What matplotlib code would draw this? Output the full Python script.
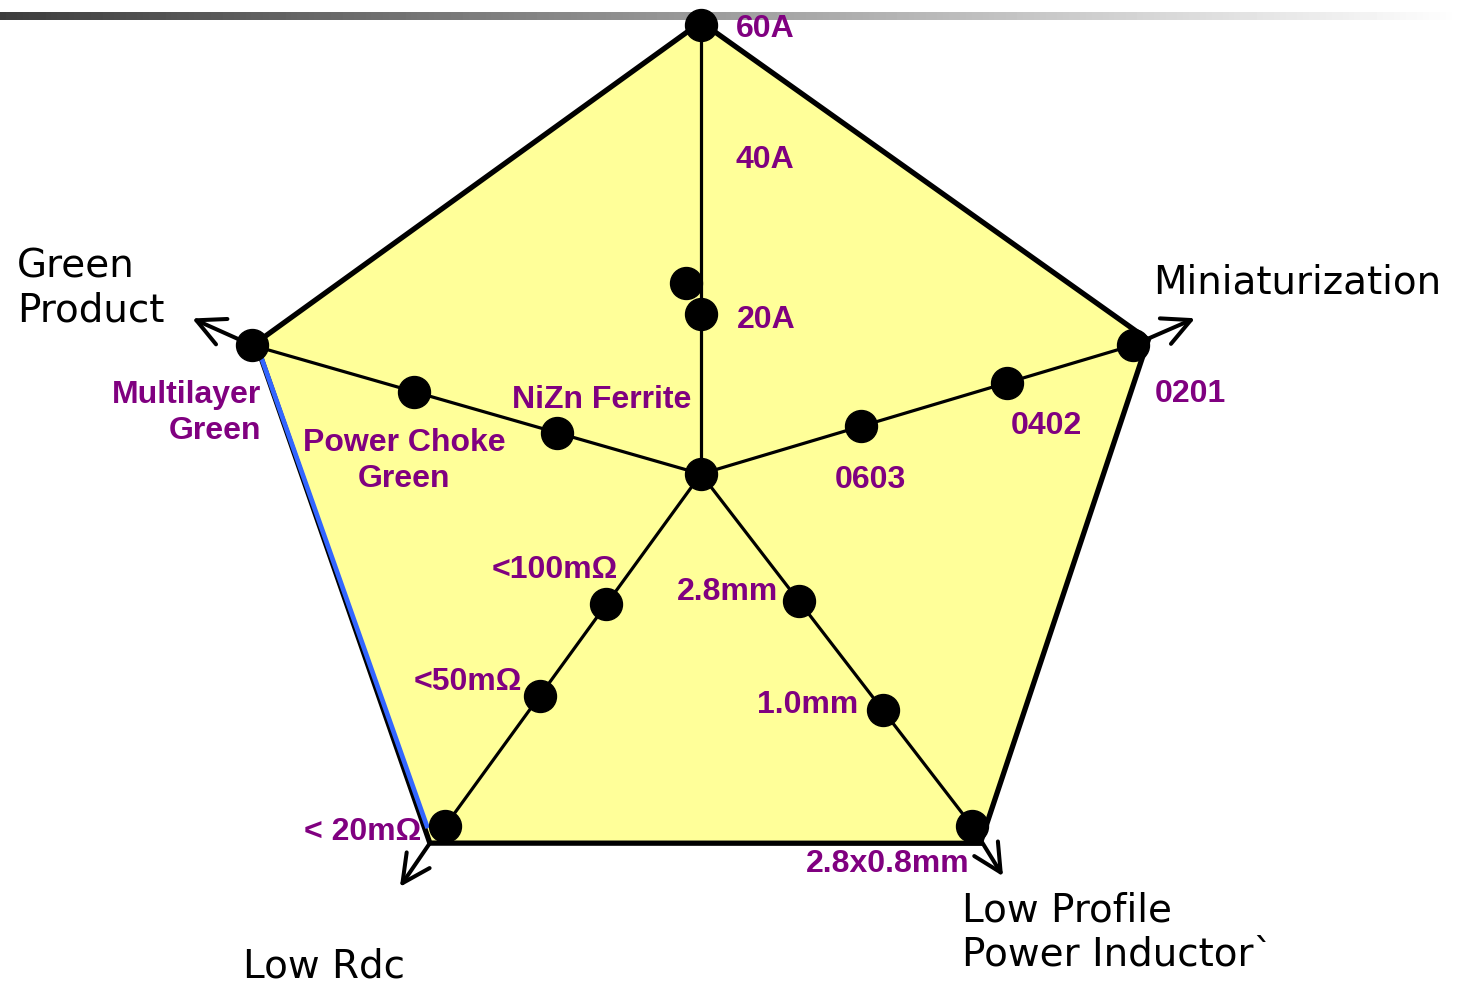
import numpy as np
import matplotlib
matplotlib.use("Agg")
import matplotlib.pyplot as plt

# ---------------- data ----------------
center = (701, 474)
axis_names = ["Current", "Miniaturization", "Low Profile\nPower Inductor`", "Low Rdc", "Green\nProduct"]
axis_angles = [90.0, 16.6, -52.4, -126.0, 164.0]          # degrees
axis_lengths = [449, 451, 444, 435, 467]                   # axis length

# dot positions (fraction of axis length)
dot_fracs = {
    "Current": [0.356, 1.0],
    "Miniaturization": [0.37, 0.707, 1.0],
    "Low Profile\nPower Inductor`": [0.36, 0.67, 1.0],
    "Low Rdc": [0.37, 0.63, 1.0],
    "Green\nProduct": [0.32, 0.64, 1.0],
}
extra_dot = (191.6, 94.5)   # (radius, angle) of the offset dot near 20A

# outline pentagon (radius, angle) per vertex
outline_r = [452, 467, 463, 458, 464]
outline_ang = [90.0, 16.7, -52.9, -126.3, 163.6]

# arrow tips (radius, angle) for the four outer axes
arrow_tip_r = [None, 518, 503, 511, 532]
arrow_tip_ang = [None, 17.5, -53.1, -126.1, 163.0]

# value labels: text, x, y, ha
value_labels = [
    ("60A", 736, 27, "left"),
    ("40A", 736, 158, "left"),
    ("20A", 737, 318, "left"),
    ("NiZn Ferrite", 602, 398, "center"),
    ("Power Choke\nGreen", 404, 459, "center"),
    ("Multilayer\nGreen", 261, 411, "right"),
    ("0201", 1155, 392, "left"),
    ("0402", 1011, 424, "left"),
    ("0603", 835, 478, "left"),
    ("<100m\u03a9", 618, 568, "right"),
    ("<50m\u03a9", 522, 680, "right"),
    ("< 20m\u03a9", 421, 830, "right"),
    ("2.8mm", 677, 590, "left"),
    ("1.0mm", 757, 703, "left"),
    ("2.8x0.8mm", 806, 862, "left"),
]

# axis titles: text, x, y
title_pos = {
    "Miniaturization": (1153, 282),
    "Low Profile\nPower Inductor`": (962, 932),
    "Low Rdc": (243, 967),
    "Green\nProduct": (17, 289),
}

# ---------------- helpers ----------------
def polar(r, ang):
    a = np.deg2rad(ang)
    return center[0] + r * np.cos(a), center[1] - r * np.sin(a)

# ---------------- figure ----------------
W, H = 1463, 984
fig = plt.figure(figsize=(W / 100, H / 100), dpi=100)
ax = fig.add_axes([0, 0, 1, 1])
ax.set_xlim(0, W)
ax.set_ylim(H, 0)
ax.axis("off")

# gradient bar at top
grad = np.linspace(0.24, 1.0, 256)[None, :]
ax.imshow(grad, cmap="gray", vmin=0, vmax=1, extent=[0, W, 20, 12], aspect="auto", zorder=1)

# outline pentagon
ox, oy = zip(*[polar(r, a) for r, a in zip(outline_r, outline_ang)])
ax.fill(ox, oy, facecolor="#FFFF99", edgecolor="black", linewidth=3.8, zorder=2, joinstyle="miter")

# blue line along left edge (slightly inside the outline)
lx0, ly0 = ox[4], oy[4]
lx1, ly1 = ox[3], oy[3]
t0, t1 = 0.005, 0.97
ax.plot([lx0 + (lx1 - lx0) * t0 + 1, lx0 + (lx1 - lx0) * t1 + 3],
        [ly0 + (ly1 - ly0) * t0 + 2, ly0 + (ly1 - ly0) * t1],
        color="#3366FF", linewidth=3.4, zorder=3, solid_capstyle="butt")

# axis lines
for name, ang, L in zip(axis_names, axis_angles, axis_lengths):
    ex, ey = polar(L, ang)
    ax.plot([center[0], ex], [center[1], ey], color="black", linewidth=2.3, zorder=3)

# arrows
for i in range(1, 5):
    sx, sy = (ox[i], oy[i]) if i == 3 else polar(axis_lengths[i], axis_angles[i])
    tx, ty = polar(arrow_tip_r[i], arrow_tip_ang[i])
    ax.annotate("", xy=(tx, ty), xytext=(sx, sy),
                arrowprops=dict(arrowstyle="->,head_length=1.0,head_width=0.5",
                                color="black", lw=2.9, shrinkA=0, shrinkB=0,
                                mutation_scale=20),
                zorder=3)

# dots
ax.plot(*polar(0, 0), "o", color="black", markersize=23, zorder=4)
for name, ang, L in zip(axis_names, axis_angles, axis_lengths):
    for f in dot_fracs[name]:
        px, py = polar(L * f, ang)
        ax.plot(px, py, "o", color="black", markersize=23, zorder=4)
ex_x, ex_y = polar(*extra_dot)
ax.plot(ex_x, ex_y, "o", color="black", markersize=23, zorder=4)

# value labels
for txt, x, y, ha in value_labels:
    ax.text(x, y + 2, txt, ha=ha, va="center", color="#800080", fontsize=23,
            fontweight="bold", family="Liberation Sans", zorder=5, linespacing=1.3)

# axis titles
for name, (x, y) in title_pos.items():
    ax.text(x, y, name, ha="left", va="center", color="black", fontsize=28,
            family="DejaVu Sans", zorder=5, linespacing=1.2)

fig.savefig("out.png", dpi=100)
